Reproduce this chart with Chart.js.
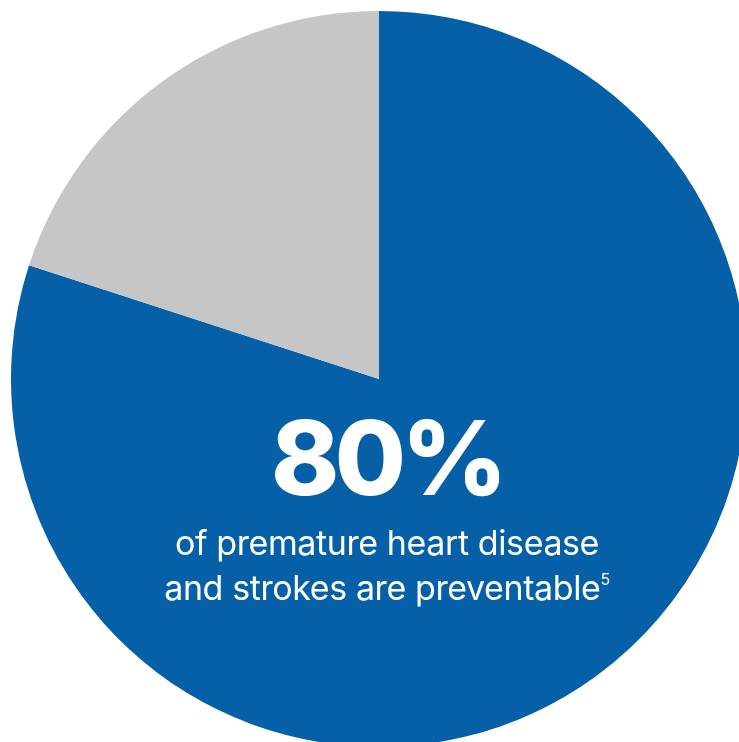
<!DOCTYPE html>
<html>
<head>
<meta charset="utf-8">
<script src="https://cdn.jsdelivr.net/npm/chart.js@4.4.1/dist/chart.umd.min.js"></script>
<style>
    html, body { margin: 0; padding: 0; background: #ffffff; overflow: hidden; width: 739px; height: 742px; }
    #wrap { position: relative; width: 739px; height: 742px; overflow: hidden; }
    #pie { position: absolute; left: 11px; top: 11px; }
    .label { position: absolute; left: 387px; color: #ffffff; font-family: Inter, "Liberation Sans", Arial, sans-serif; text-align: center; white-space: nowrap; transform: translateX(-50%); }
    #big { top: 406px; font-size: 103px; line-height: 103px; font-weight: 800; letter-spacing: -4.5px; }
    #sub { top: 520px; font-size: 34px; line-height: 45px; letter-spacing: -0.4px; }
    #sub sup { font-size: 16px; vertical-align: 15px; line-height: 0; }
</style>
</head>
<body>
<div id="wrap">
    <canvas id="pie" width="736" height="736"></canvas>
    <div class="label" id="big">80%</div>
    <div class="label" id="sub">of premature heart disease<br>and strokes are preventable<sup>5</sup></div>
</div>
<script>
const labels = ['Preventable', 'Not preventable'];
const values = [80, 20];
const colors = ['#0560a8', '#c6c6c6'];

const ctx = document.getElementById('pie');
new Chart(ctx, {
    type: 'pie',
    data: {
        labels: labels,
        datasets: [{
            data: values,
            backgroundColor: colors,
            borderWidth: 0
        }]
    },
    options: {
        responsive: false,
        animation: false,
        layout: { padding: 0 },
        plugins: {
            legend: { display: false },
            tooltip: { enabled: false }
        }
    }
});
</script>
</body>
</html>
